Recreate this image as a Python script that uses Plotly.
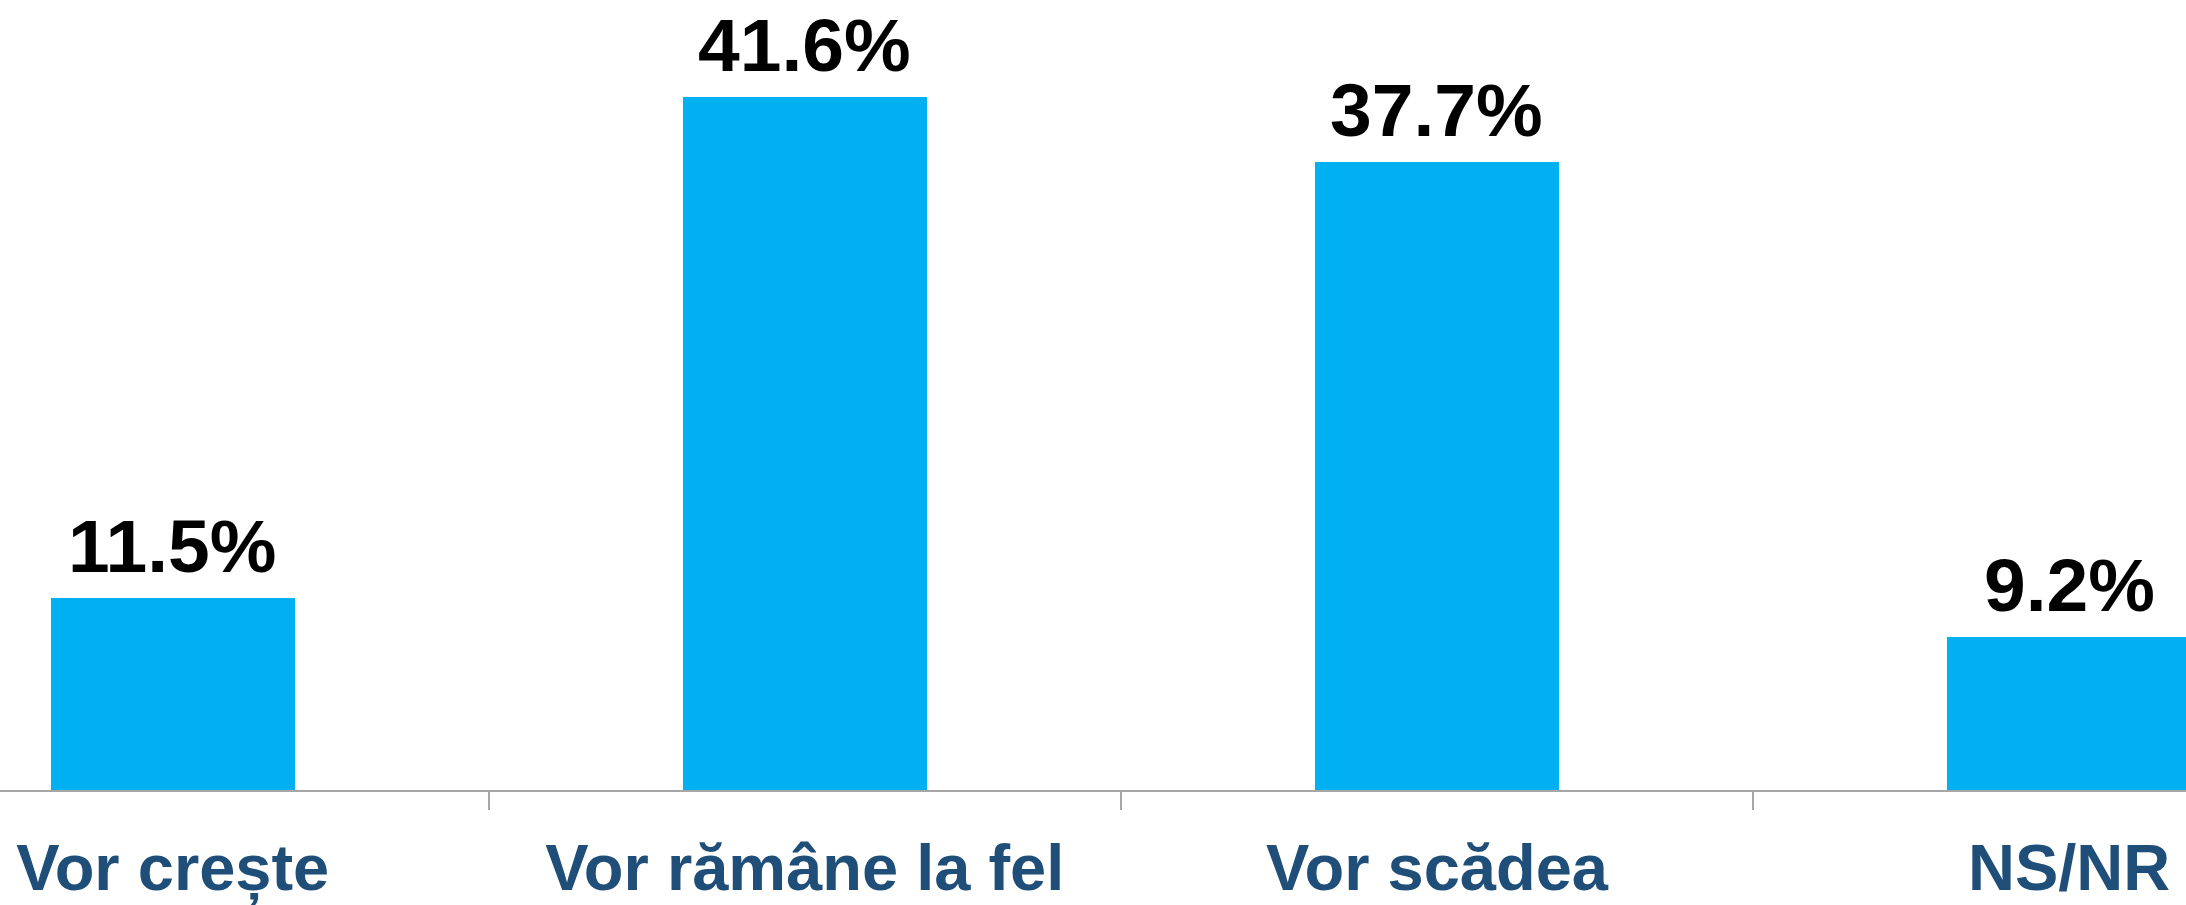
import plotly.graph_objects as go

categories = ["Vor crește", "Vor rămâne la fel", "Vor scădea", "NS/NR"]
values = [11.5, 41.6, 37.7, 9.2]
value_labels = ["11.5%", "41.6%", "37.7%", "9.2%"]

BAR_COLOR = "#00B0F0"
LABEL_COLOR = "#1F4E79"
FONT = "Liberation Sans, Arial, sans-serif"

fig = go.Figure()
fig.add_trace(go.Bar(
    x=list(range(len(categories))),
    y=values,
    marker=dict(color=BAR_COLOR, line=dict(width=0)),
    width=0.386,
    hoverinfo="skip",
))

for i, (v, t) in enumerate(zip(values, value_labels)):
    fig.add_annotation(
        x=i, y=v, text=t, showarrow=False,
        xanchor="center", yanchor="bottom", yshift=8,
        font=dict(family=FONT, size=75, color="black", weight="bold"),
    )

fig.update_layout(
    width=2186, height=905,
    margin=dict(l=0, r=0, t=0, b=115, autoexpand=False),
    paper_bgcolor="white", plot_bgcolor="white",
    showlegend=False,
    bargap=0,
)
fig.update_xaxes(
    range=[-0.2732, 3.185],
    tickmode="array",
    tickvals=list(range(len(categories))),
    ticktext=categories,
    showline=True, linecolor="#A6A6A6", linewidth=2,
    ticks="", showgrid=False, zeroline=False, automargin=False,
    tickfont=dict(family=FONT, size=65, color=LABEL_COLOR, weight="bold"),
    ticklabelstandoff=20,
)
# boundary tick marks between categories
fig.update_layout(xaxis2=dict(
    overlaying="x", matches="x", anchor="y",
    side="bottom", range=[-0.2732, 3.185], automargin=False,
    tickmode="array", tickvals=[0.5, 1.5, 2.5], ticktext=["", "", ""],
    ticks="outside", ticklen=19, tickwidth=2, tickcolor="#A6A6A6",
    showline=False, showgrid=False, zeroline=False,
))
fig.add_trace(go.Scatter(x=[0], y=[0], xaxis="x2", mode="markers",
                         marker=dict(opacity=0), hoverinfo="skip", showlegend=False))
fig.update_yaxes(range=[0, 47.42], visible=False, showgrid=False, zeroline=False,
                 automargin=False)

fig.write_html("out.html",
               config={"displayModeBar": False, "staticPlot": True},
               post_script="document.body.style.margin='0';document.body.style.overflow='hidden';")
